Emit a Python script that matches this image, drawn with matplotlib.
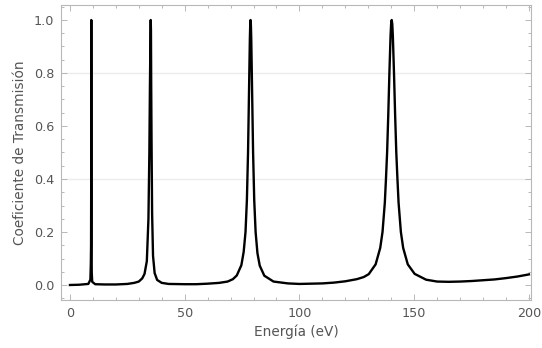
import matplotlib
matplotlib.use("Agg")
import matplotlib.pyplot as plt
from matplotlib.ticker import MultipleLocator

# Energy (eV) and transmission coefficient
energy = [
    0, 4, 8, 8.9, 9.1, 9.2, 9.25, 9.28, 9.3, 9.32, 9.35, 9.4, 9.5, 9.7, 11,
    15, 20, 25, 28, 30, 31.5, 32.5, 33.5, 34.2, 34.6, 34.85, 35.0, 35.1,
    35.2, 35.3, 35.4, 35.55, 35.8, 36.2, 36.9, 38, 40, 43, 50,
    55, 60, 65, 68.7, 71, 72.7, 74.7, 75.7, 76.5, 77.1, 77.6, 78.1, 78.4,
    78.55, 78.7, 78.85, 79.0, 79.3, 79.8, 80.3, 80.9, 81.7, 82.7, 84.7,
    88.7, 95,
    100, 105, 110, 115, 120, 125, 128, 130.2, 133.2, 135.2, 136.2, 137.2,
    137.7, 138.2, 138.7, 139.2, 139.7, 139.95, 140.2, 140.45, 140.7, 141.2,
    141.7, 142.2, 142.7, 143.2, 144.2, 145.2, 147.2, 150.2, 155.2, 160,
    165, 170, 175, 180, 185, 190, 195, 200,
]
transmission = [
    0.0, 0.001, 0.004, 0.02, 0.08, 0.15, 0.35, 0.7, 1.0, 0.75, 0.4, 0.14,
    0.045, 0.012, 0.003,
    0.002, 0.002, 0.004, 0.008, 0.013, 0.025, 0.042, 0.09, 0.25, 0.5, 0.75,
    0.87, 0.96, 1.0, 0.96, 0.76, 0.55, 0.27, 0.11, 0.045, 0.019, 0.008,
    0.004, 0.003,
    0.003, 0.005, 0.008, 0.013, 0.022, 0.036, 0.075, 0.125, 0.2, 0.32, 0.5,
    0.77, 0.93, 0.98, 1.0, 0.98, 0.93, 0.77, 0.5, 0.32, 0.2, 0.12, 0.073,
    0.035, 0.013, 0.006,
    0.004, 0.005, 0.006, 0.009, 0.014, 0.022, 0.03, 0.041, 0.078, 0.14,
    0.2, 0.31, 0.4, 0.5, 0.64, 0.8, 0.94, 0.985, 1.0, 0.985, 0.94, 0.8,
    0.64, 0.5, 0.4, 0.31, 0.2, 0.14, 0.078, 0.042, 0.02, 0.013, 0.012,
    0.013, 0.015, 0.018, 0.021, 0.026, 0.032, 0.04,
]

x_ticks = [0, 50, 100, 150, 200]
y_ticks = [0.0, 0.2, 0.4, 0.6, 0.8, 1.0]
grid_levels = [0.4, 0.8]

frame_col = "#b8b8b8"
text_col = "#555555"

fig = plt.figure(figsize=(5.42, 3.48), dpi=100)
ax = fig.add_axes([61 / 542, 1 - 300 / 348, 470 / 542, 295 / 348])

for g in grid_levels:
    ax.axhline(g, color="#ececec", lw=1.0, zorder=0)

ax.plot(energy, transmission, color="black", lw=1.7,
        solid_joinstyle="round", zorder=3)

ax.set_xlim(-3.9, 200.9)
ax.set_ylim(-0.0566, 1.0566)
ax.set_xticks(x_ticks)
ax.set_yticks(y_ticks)
ax.set_xticklabels([str(v) for v in x_ticks])
ax.set_yticklabels([f"{v:.1f}" for v in y_ticks])
ax.xaxis.set_minor_locator(MultipleLocator(10))
ax.yaxis.set_minor_locator(MultipleLocator(0.05))

for s in ax.spines.values():
    s.set_color(frame_col)
    s.set_linewidth(0.8)

ax.tick_params(which="both", direction="in", top=True, right=True,
               color=frame_col, labelcolor=text_col, labelsize=9.2, width=0.7)
ax.tick_params(which="major", length=4, pad=5)
ax.tick_params(which="minor", length=2)

ax.set_xlabel("Energía (eV)", color=text_col, fontsize=9.8, labelpad=3)
ax.set_ylabel("Coeficiente de Transmisión", color=text_col, fontsize=9.8,
              labelpad=5)

fig.savefig("out.png", dpi=100)
